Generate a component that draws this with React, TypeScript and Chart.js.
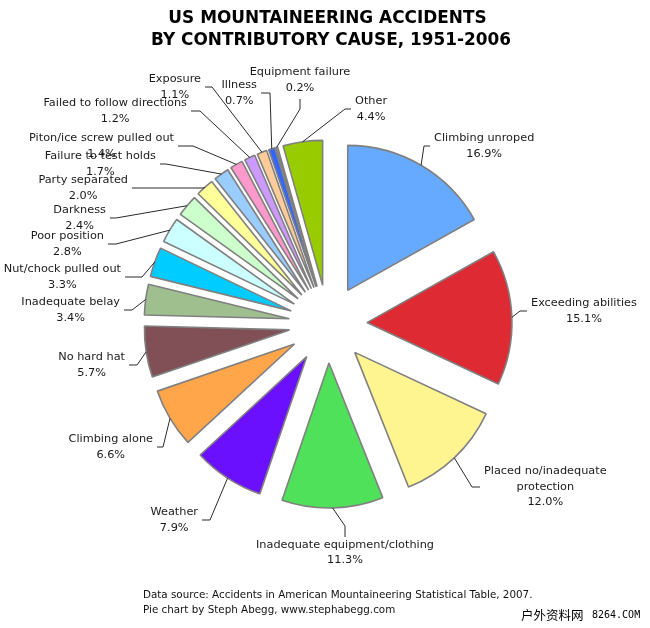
import { useEffect, useRef } from "react";
import { Chart, registerables } from "chart.js";

Chart.register(...registerables);

// ---- data ----
const categories = [
  "Climbing unroped",
  "Exceeding abilities",
  "Placed no/inadequate protection",
  "Inadequate equipment/clothing",
  "Weather",
  "Climbing alone",
  "No hard hat",
  "Inadequate belay",
  "Nut/chock pulled out",
  "Poor position",
  "Darkness",
  "Party separated",
  "Failure to test holds",
  "Piton/ice screw pulled out",
  "Failed to follow directions",
  "Exposure",
  "Illness",
  "Equipment failure",
  "Other",
];

const percentages = [
  16.9, 15.1, 12.0, 11.3, 7.9, 6.6, 5.7, 3.4, 3.3, 2.8, 2.4, 2.0, 1.7, 1.4, 1.2,
  1.1, 0.7, 0.2, 4.4,
];

const titleLines = ["US MOUNTAINEERING ACCIDENTS", "BY CONTRIBUTORY CAUSE, 1951-2006"];
const footerLines = [
  "Data source: Accidents in American Mountaineering Statistical Table, 2007.",
  "Pie chart by Steph Abegg, www.stephabegg.com",
];
const watermarkCJK = "户外资料网";
const watermarkLatin = "8264.COM";

// ---- styles ----
const sliceColors = [
  "#66aaff",
  "#dd2a33",
  "#fff590",
  "#4fe15a",
  "#6a10ff",
  "#ffa64b",
  "#815056",
  "#9fbf8f",
  "#00ccff",
  "#ccffff",
  "#ccffcc",
  "#ffff99",
  "#99ccff",
  "#ff99cc",
  "#cc99ff",
  "#ffcc99",
  "#3366ff",
  "#c8c8c8",
  "#99cc00",
];

const labelBreaks: Record<string, string[]> = {
  "Placed no/inadequate protection": ["Placed no/inadequate", "protection"],
};

type Side = "left" | "right" | "top" | "bottom";
// leader-line layout relative to the pie centre: elbow dx, dy, end dx, dy, text side
const labelAnchors: [number, number, number, number, Side][] = [
  [96, -178, 102, -178, "right"],
  [192, -13, 199, -13, "right"],
  [144, 163, 152, 163, "right"],
  [17, 202, 17, 213, "bottom"],
  [-118, 196, -126, 196, "left"],
  [-165, 123, -171, 123, "left"],
  [-191, 41, -199, 41, "left"],
  [-196, -14, -204, -14, "left"],
  [-186, -47, -203, -47, "left"],
  [-212, -80, -220, -80, "left"],
  [-212, -106, -218, -106, "left"],
  [-125, -136, -196, -136, "left"],
  [-162, -160, -168, -160, "left"],
  [-135, -178, -150, -178, "left"],
  [-128, -213, -137, -213, "left"],
  [-116, -237, -123, -237, "left"],
  [-58, -231, -67, -231, "left"],
  [-28, -215, -28, -225, "top"],
  [17, -215, 23, -215, "right"],
];

const EXPLODE = 39;
const RADIUS = 145;
const LABEL_FONT = '11.3px "DejaVu Sans"';
const LINE_H = 15.5;

const explodePlugin = {
  id: "explode",
  beforeDatasetDraw(chart: any, args: any) {
    const ctx = chart.ctx;
    args.meta.data.forEach((arc: any) => {
      const mid = (arc.startAngle + arc.endAngle) / 2;
      ctx.save();
      ctx.translate(Math.cos(mid) * EXPLODE, Math.sin(mid) * EXPLODE);
      arc.draw(ctx);
      ctx.restore();
    });
    return false;
  },
};

const annotatePlugin = {
  id: "annotate",
  afterDraw(chart: any) {
    const ctx: CanvasRenderingContext2D = chart.ctx;
    const meta = chart.getDatasetMeta(0);
    ctx.save();
    // title
    ctx.fillStyle = "#000";
    ctx.font = 'bold 16.9px "DejaVu Sans"';
    ctx.textAlign = "center";
    ctx.textBaseline = "middle";
    ctx.fillText(titleLines[0], 327.5, 19);
    ctx.fillText(titleLines[1], 331, 41);

    // labels + leaders
    ctx.font = LABEL_FONT;
    ctx.strokeStyle = "#2a2a2a";
    ctx.lineWidth = 1;
    meta.data.forEach((arc: any, i: number) => {
      const { x, y, startAngle, endAngle, outerRadius } = arc;
      const mid = (startAngle + endAngle) / 2;
      const px = x + Math.cos(mid) * (EXPLODE + outerRadius);
      const py = y + Math.sin(mid) * (EXPLODE + outerRadius);
      const [edx, edy, ndx, ndy, side] = labelAnchors[i];
      const ex = x + edx, ey = y + edy, nx = x + ndx, ny = y + ndy;
      ctx.beginPath();
      ctx.moveTo(px, py);
      ctx.lineTo(ex, ey);
      ctx.lineTo(nx, ny);
      ctx.stroke();

      const lines = [
        ...(labelBreaks[categories[i]] ?? [categories[i]]),
        percentages[i].toFixed(1) + "%",
      ];
      const w = Math.max(...lines.map((l) => ctx.measureText(l).width));
      let tx = nx;
      let ty0 = ny;
      const n = lines.length;
      if (side === "right") {
        tx = nx + 4 + w / 2;
        ty0 = ny - ((n - 1) * LINE_H) / 2;
      } else if (side === "left") {
        tx = nx - 4 - w / 2;
        ty0 = ny - ((n - 1) * LINE_H) / 2;
      } else if (side === "bottom") {
        tx = nx;
        ty0 = ny + 8;
      } else {
        tx = nx;
        ty0 = ny - 11 - (n - 1) * LINE_H;
      }
      ctx.fillStyle = "#1a1a1a";
      ctx.textAlign = "center";
      lines.forEach((l, k) => ctx.fillText(l, tx, ty0 + k * LINE_H));
    });

    // footer
    ctx.fillStyle = "#111";
    ctx.textAlign = "left";
    ctx.font = '10.35px "DejaVu Sans"';
    ctx.fillText(footerLines[0], 143, 595);
    ctx.fillText(footerLines[1], 143, 610);

    // watermark
    ctx.fillStyle = "#000";
    ctx.font = '12.5px "Noto Sans CJK SC"';
    ctx.fillText(watermarkCJK, 521, 615);
    ctx.font = '10px "DejaVu Sans Mono"';
    ctx.fillText(watermarkLatin, 592, 615);
    ctx.restore();
  },
};

export default function App() {
  const ref = useRef<HTMLCanvasElement | null>(null);
  useEffect(() => {
    if (!ref.current) return;
    const chart = new Chart(ref.current, {
      type: "pie",
      data: {
        labels: categories,
        datasets: [
          {
            data: percentages,
            backgroundColor: sliceColors,
            borderColor: "#808080",
            borderWidth: 1.6,
          },
        ],
      },
      options: {
        responsive: false,
        animation: false,
        radius: RADIUS,
        layout: { padding: { left: 6, right: 0, top: 20, bottom: 0 } },
        plugins: {
          legend: { display: false },
          tooltip: { enabled: false },
        },
      } as any,
      plugins: [explodePlugin, annotatePlugin],
    });
    return () => chart.destroy();
  }, []);
  return (
    <div style={{ position: "absolute", left: 0, top: 0, width: 650, height: 628, background: "#fff" }}>
      <canvas ref={ref} width={650} height={628} style={{ width: 650, height: 628 }} />
    </div>
  );
}
